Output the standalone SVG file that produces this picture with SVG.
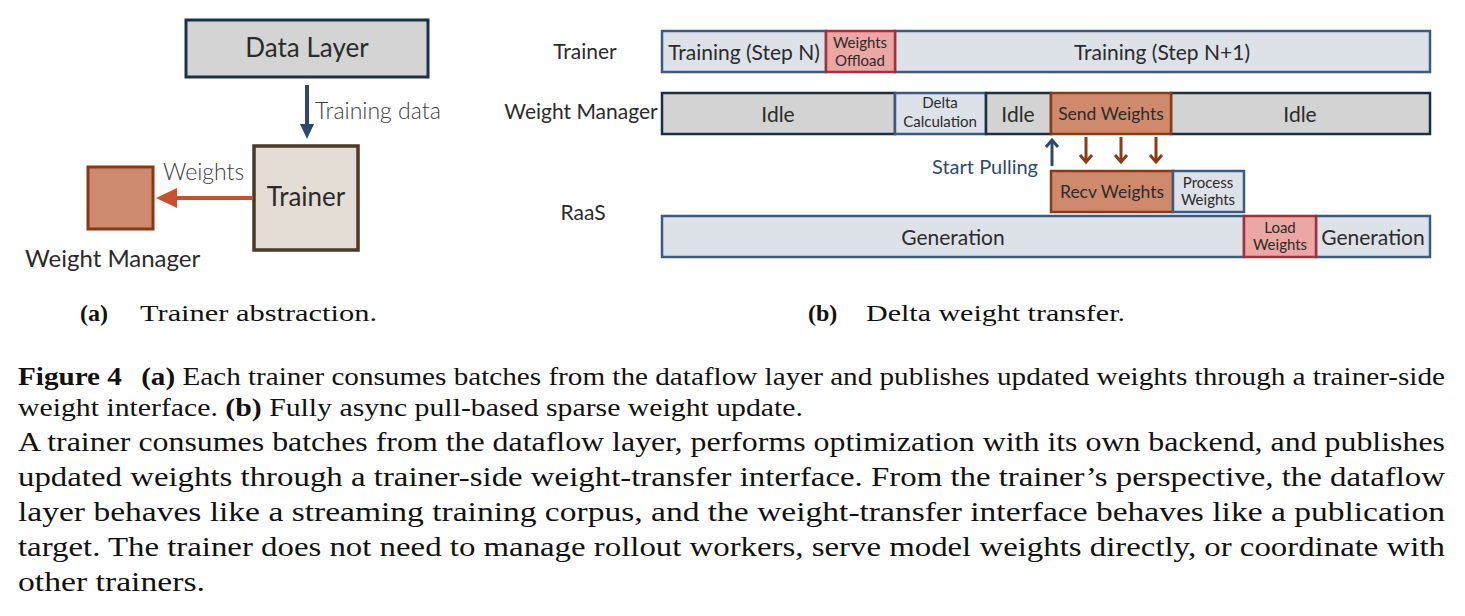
<svg xmlns="http://www.w3.org/2000/svg" width="1465" height="616" viewBox="0 0 1465 616">
<style>
.sans{font-family:Lato,"Open Sans","Liberation Sans",sans-serif;fill:#2b2b2b}
.lbl{font-family:Lato,"Open Sans","Liberation Sans",sans-serif;fill:#404040;font-weight:300}
.mid{text-anchor:middle}
.serif{font-family:"Liberation Serif","DejaVu Serif",serif;fill:#111}
.b{font-weight:bold}
.light{fill:#dde1e8;stroke:#3b5b82;stroke-width:2.5}
.gray{fill:#d3d3d3;stroke:#1b2f40;stroke-width:2.5}
.orange{fill:#cf8a6e;stroke:#8c3a14;stroke-width:2.5}
.pink{fill:#eba7a4;stroke:#a3303a;stroke-width:2.5}
.s15{font-size:15px}
.s21{font-size:21px}
</style>

<!-- (a) Trainer abstraction -->
<g id="data-layer">
<rect x="186" y="20" width="242" height="57" fill="#d4d4d4" stroke="#1c3248" stroke-width="3"/>
<text class="sans mid" x="307" y="57" font-size="26">Data Layer</text>
</g>
<g id="trainer-a">
<rect x="254" y="146" width="104" height="104" fill="#e4ddd6" stroke="#4a3a28" stroke-width="3.5"/>
<text class="sans mid" x="306" y="206" font-size="26">Trainer</text>
</g>
<g id="weight-manager-a">
<rect x="88" y="167" width="65" height="62" fill="#cd8a6e" stroke="#8a3812" stroke-width="3"/>
<text class="sans" x="25" y="267" font-size="24">Weight Manager</text>
</g>
<g id="connectors-a">
<line x1="307" y1="85" x2="307" y2="126" stroke="#2a4870" stroke-width="4"/>
<polygon points="300,124 314,124 307,139" fill="#2a4870"/>
<text class="lbl" x="315" y="119" font-size="23">Training data</text>
<line x1="253" y1="198" x2="172" y2="198" stroke="#c8502e" stroke-width="4"/>
<polygon points="156,198 177,188 177,208" fill="#c8502e"/>
<text class="lbl" x="163" y="180" font-size="23">Weights</text>
</g>

<!-- (b) Delta weight transfer -->
<g id="row-labels">
<text class="sans mid s21" x="585" y="59">Trainer</text>
<text class="sans mid s21" x="581" y="119">Weight Manager</text>
<text class="sans mid s21" x="583" y="220">RaaS</text>
</g>
<g id="trainer-row">
<rect class="light" x="662" y="31" width="164" height="41"/>
<rect class="light" x="895" y="31" width="535" height="41"/>
<rect class="pink" x="826" y="31" width="69" height="41"/>
<text class="sans mid s21" x="744" y="60">Training (Step N)</text>
<text class="sans mid s15" x="860" y="48">Weights</text>
<text class="sans mid s15" x="860" y="66">Offload</text>
<text class="sans mid s21" x="1162" y="60">Training (Step N+1)</text>
</g>
<g id="wm-row">
<rect class="gray" x="662" y="93" width="233" height="41"/>
<rect class="light" x="895" y="93" width="91" height="41"/>
<rect class="gray" x="986" y="93" width="65" height="41"/>
<rect class="gray" x="1171" y="93" width="259" height="41"/>
<rect class="orange" x="1051" y="93" width="120" height="41"/>
<text class="sans mid s21" x="778" y="122">Idle</text>
<text class="sans mid s15" x="940" y="108">Delta</text>
<text class="sans mid s15" x="940" y="127">Calculation</text>
<text class="sans mid s21" x="1018" y="122">Idle</text>
<text class="sans mid" x="1111" y="120" font-size="17.5">Send Weights</text>
<text class="sans mid s21" x="1300" y="122">Idle</text>
</g>
<g id="recv-row">
<rect class="orange" x="1051" y="171" width="122" height="41"/>
<rect class="light" x="1173" y="171" width="71" height="41"/>
<text class="sans mid" x="1112" y="198" font-size="17.5">Recv Weights</text>
<text class="sans mid s15" x="1208" y="188">Process</text>
<text class="sans mid s15" x="1208" y="205">Weights</text>
</g>
<g id="raas-row">
<rect class="light" x="662" y="216" width="582" height="41"/>
<rect class="light" x="1316" y="216" width="114" height="41"/>
<rect class="pink" x="1244" y="216" width="72" height="41"/>
<text class="sans mid s21" x="953" y="245">Generation</text>
<text class="sans mid s15" x="1280" y="233">Load</text>
<text class="sans mid s15" x="1280" y="250">Weights</text>
<text class="sans mid s21" x="1373" y="245">Generation</text>
</g>
<g id="connectors-b" fill="none" stroke-width="3">
<g stroke="#2c4a70">
<line x1="1052" y1="166" x2="1052" y2="140"/>
<polyline points="1046,147 1052,140 1058,147"/>
</g>
<g stroke="#8c3a14">
<line x1="1086" y1="137" x2="1086" y2="162"/>
<polyline points="1080,155 1086,162 1092,155"/>
<line x1="1121" y1="137" x2="1121" y2="162"/>
<polyline points="1115,155 1121,162 1127,155"/>
<line x1="1156" y1="137" x2="1156" y2="162"/>
<polyline points="1150,155 1156,162 1162,155"/>
</g>
<text x="1038" y="174" font-family="Lato,'Open Sans','Liberation Sans',sans-serif" font-size="20" fill="#2c4a70" stroke="none" text-anchor="end">Start Pulling</text>
</g>

<!-- captions -->
<g id="subcaptions" font-size="24">
<text class="serif b" x="80" y="321">(a)</text>
<text class="serif" x="140" y="321" textLength="237" lengthAdjust="spacingAndGlyphs">Trainer abstraction.</text>
<text class="serif b" x="808" y="321">(b)</text>
<text class="serif" x="866" y="321" textLength="259" lengthAdjust="spacingAndGlyphs">Delta weight transfer.</text>
</g>
<g id="caption" font-size="24.5">
<text class="serif" x="18" y="385" textLength="1427" lengthAdjust="spacingAndGlyphs"><tspan class="b">Figure 4</tspan><tspan class="b" dx="10"> (a)</tspan> Each trainer consumes batches from the dataflow layer and publishes updated weights through a trainer-side</text>
<text class="serif" x="18" y="416" textLength="785" lengthAdjust="spacingAndGlyphs">weight interface. <tspan class="b">(b)</tspan> Fully async pull-based sparse weight update.</text>
</g>
<g id="body" font-size="28">
<text class="serif" x="18" y="451" textLength="1427" lengthAdjust="spacingAndGlyphs">A trainer consumes batches from the dataflow layer, performs optimization with its own backend, and publishes</text>
<text class="serif" x="18" y="486" textLength="1427" lengthAdjust="spacingAndGlyphs">updated weights through a trainer-side weight-transfer interface. From the trainer’s perspective, the dataflow</text>
<text class="serif" x="18" y="521" textLength="1427" lengthAdjust="spacingAndGlyphs">layer behaves like a streaming training corpus, and the weight-transfer interface behaves like a publication</text>
<text class="serif" x="18" y="556" textLength="1427" lengthAdjust="spacingAndGlyphs">target. The trainer does not need to manage rollout workers, serve model weights directly, or coordinate with</text>
<text class="serif" x="18" y="591" textLength="187" lengthAdjust="spacingAndGlyphs">other trainers.</text>
</g>
</svg>
